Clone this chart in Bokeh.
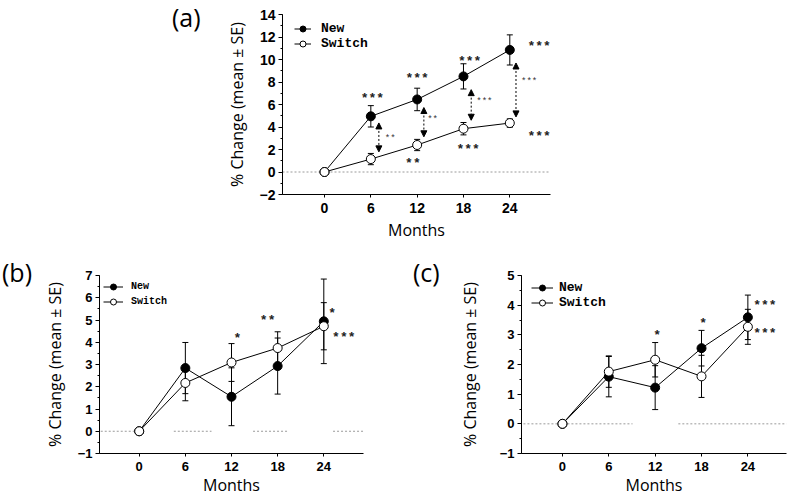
from bokeh.plotting import figure
from bokeh.models import (Range1d, ColumnDataSource, Whisker, TeeHead, Arrow, NormalHead,
                          Legend, LegendItem, FixedTicker, SingleIntervalTicker, Spacer, Div)
from bokeh.layouts import row, column
from bokeh.core.properties import value
from bokeh.embed import file_html
from bokeh.resources import INLINE

# ---------------- data ----------------
months = [0, 6, 12, 18, 24]

# panel (a)
a_new_mean = [0, 4.95, 6.45, 8.5, 10.85]
a_new_se = [0, 0.95, 1.0, 1.12, 1.34]
a_sw_mean = [0, 1.15, 2.4, 3.85, 4.35]
a_sw_se = [0, 0.5, 0.5, 0.55, 0.37]
a_star_x = [6.2, 12.0, 18.8, 27.8, 11.45, 18.6, 27.8]
a_star_y = [6.82, 8.59, 10.07, 11.4, 1.06, 2.24, 3.43]
a_star_text = ["***", "***", "***", "***", "**", "***", "***"]
a_diff_x = [7.04, 12.87, 19.0, 24.8]
a_diff_top = [4.36, 5.73, 7.32, 9.69]
a_diff_bottom = [1.79, 3.13, 4.6, 4.9]
a_diff_label_x = [8.5, 14.0, 20.7, 26.5]
a_diff_label_y = [3.13, 4.76, 6.38, 8.15]
a_diff_text = ["**", "**", "***", "***"]
a_zero_x0 = [-5.44]
a_zero_x1 = [29.27]

# panel (b)
b_new_mean = [0, 2.84, 1.55, 2.93, 4.94]
b_new_se = [0, 1.15, 1.3, 1.26, 1.9]
b_sw_mean = [0, 2.17, 3.09, 3.74, 4.72]
b_sw_se = [0, 0.8, 0.85, 0.73, 1.06]
b_star_x = [12.77, 16.7, 25.1, 26.6]
b_star_y = [4.31, 5.12, 5.42, 4.37]
b_star_text = ["*", "**", "*", "***"]
b_zero_x0 = [-5.0, 4.5, 14.8, 25.2]
b_zero_x1 = [-0.65, 9.4, 19.35, 29.2]

# panel (c)
c_new_mean = [0, 1.59, 1.22, 2.55, 3.59]
c_new_se = [0, 0.68, 0.74, 0.6, 0.75]
c_sw_mean = [0, 1.76, 2.16, 1.6, 3.27]
c_sw_se = [0, 0.53, 0.58, 0.71, 0.59]
c_star_x = [12.26, 18.2, 26.2, 26.2]
c_star_y = [3.09, 3.5, 4.1, 3.14]
c_star_text = ["*", "*", "***", "***"]
c_zero_x0 = [-5.05, 15.0]
c_zero_x1 = [9.07, 29.0]

panel_letters = ["(a)", "(b)", "(c)"]

TICK_FONT = "'Liberation Sans', Arial, sans-serif"
LABEL_FONT = "'Open Sans', sans-serif"
MONO_FONT = "'Liberation Mono', 'DejaVu Sans Mono', monospace"


def make_panel(width, height, mbl, mbr, mbt, mbb, xr, yr, interval, minus_tick,
               new_mean, new_se, sw_mean, sw_se, zero_x0, zero_x1,
               star_x, star_y, star_text, tick_size, legend_font, legend_glyph_w,
               legend_loc, legend_standoff, ylab_standoff, xlab_standoff):
    p = figure(width=width, height=height, x_range=Range1d(*xr), y_range=Range1d(*yr),
               output_backend="svg", toolbar_location=None,
               min_border_left=mbl, min_border_right=mbr, min_border_top=mbt,
               min_border_bottom=mbb)
    p.outline_line_color = None
    p.xgrid.visible = False
    p.ygrid.visible = False
    p.background_fill_color = "white"
    p.border_fill_color = "white"

    xa = p.xaxis[0]
    xa.ticker = FixedTicker(ticks=months)
    xa.minor_tick_line_color = None
    xa.major_tick_in = 0
    xa.major_tick_out = 3
    xa.major_label_standoff = 5
    xa.axis_label = "Months"
    xa.axis_label_standoff = xlab_standoff
    ya = p.yaxis[0]
    ya.ticker = SingleIntervalTicker(interval=interval, num_minor_ticks=2)
    ya.major_tick_in = 0
    ya.major_tick_out = 4
    ya.minor_tick_in = 0
    ya.minor_tick_out = 2
    ya.major_label_standoff = 3
    ya.major_label_overrides = {minus_tick: "\u2212" + str(abs(minus_tick))}
    ya.axis_label = "% Change (mean \u00b1 SE)"
    ya.axis_label_standoff = ylab_standoff
    for ax in (xa, ya):
        ax.axis_line_color = "black"
        ax.major_tick_line_color = "black"
        ax.major_label_text_font = TICK_FONT
        ax.major_label_text_font_style = "bold"
        ax.major_label_text_font_size = tick_size
        ax.major_label_text_color = "black"
        ax.axis_label_text_font = LABEL_FONT
        ax.axis_label_text_font_style = "normal"
        ax.axis_label_text_font_size = "16px"
        ax.axis_label_text_color = "black"
    ya.minor_tick_line_color = "black"

    p.segment(x0=zero_x0, x1=zero_x1, y0=[0] * len(zero_x0), y1=[0] * len(zero_x0),
              line_color="#9a9a9a", line_width=1, line_dash="2 2")

    ln_new = p.line(months, new_mean, line_color="black", line_width=1)
    ln_sw = p.line(months, sw_mean, line_color="black", line_width=1)

    for mean, se in ((new_mean, new_se), (sw_mean, sw_se)):
        src = ColumnDataSource(dict(x=months,
                                    lo=[m - s for m, s in zip(mean, se)],
                                    hi=[m + s for m, s in zip(mean, se)]))
        w = Whisker(source=src, base="x", lower="lo", upper="hi", dimension="height",
                    line_color="black", line_width=1,
                    upper_head=TeeHead(size=6, line_color="black", line_width=1),
                    lower_head=TeeHead(size=6, line_color="black", line_width=1))
        p.add_layout(w)

    sc_new = p.scatter(months, new_mean, size=9, marker="circle",
                       fill_color="black", line_color="black", line_width=1)
    sc_sw = p.scatter(months, sw_mean, size=9, marker="circle",
                      fill_color="white", line_color="black", line_width=1)

    p.text(x=star_x, y=star_y, text=star_text, text_font=value(MONO_FONT),
           text_font_size="13px", text_font_style="bold", text_align="center",
           text_baseline="middle", y_offset=3, text_color="#222222")

    legend = Legend(items=[LegendItem(label="New", renderers=[ln_new, sc_new]),
                           LegendItem(label="Switch", renderers=[ln_sw, sc_sw])],
                    location=legend_loc, orientation="vertical",
                    glyph_width=legend_glyph_w, glyph_height=15, label_height=15,
                    label_standoff=legend_standoff, spacing=0, padding=0, margin=0,
                    label_text_font=MONO_FONT, label_text_font_style="bold",
                    label_text_font_size=legend_font, label_text_color="black",
                    background_fill_alpha=0, border_line_color=None)
    p.add_layout(legend, "center")
    return p


def letter_div(text, width, height, pad_left, pad_top):
    return Div(text=text, width=width, height=height, margin=0,
               styles={"font-family": "'Open Sans', sans-serif", "font-size": "25px",
                       "line-height": "34px", "padding-left": f"{pad_left}px",
                       "padding-top": f"{pad_top}px", "color": "black",
                       "box-sizing": "border-box"})


# panel (a)
pa = make_panel(360, 245, 72, 20, 14, 51, (-5.44, 29.27), (-2, 14), 2, -2,
                a_new_mean, a_new_se, a_sw_mean, a_sw_se, a_zero_x0, a_zero_x1,
                a_star_x, a_star_y, a_star_text, "14px", "13px", 17, (12, 143.5), 10, 9, 3)
arr_src = ColumnDataSource(dict(xs=a_diff_x, ys=a_diff_top, xe=a_diff_x, ye=a_diff_bottom))
pa.add_layout(Arrow(source=arr_src, x_start="xs", y_start="ys", x_end="xe", y_end="ye",
                    line_color="black", line_width=1, line_dash="2 2",
                    start=NormalHead(size=6, fill_color="black", line_color="black", line_width=1),
                    end=NormalHead(size=6, fill_color="black", line_color="black", line_width=1)))
pa.text(x=a_diff_label_x, y=a_diff_label_y, text=a_diff_text, text_font=value(MONO_FONT),
        text_font_size="9px", text_align="center", text_baseline="middle", y_offset=2,
        text_color="#333333")

# panel (b)
pb = make_panel(345, 253, 57, 22, 30, 45, (-5.16, 29.16), (-1, 7), 1, -1,
                b_new_mean, b_new_se, b_sw_mean, b_sw_se, b_zero_x0, b_zero_x1,
                b_star_x, b_star_y, b_star_text, "13px", "10px", 20, (4, 144.5), 8, 9, 0)

# panel (c)
pc = make_panel(333, 253, 66, 2, 30, 45, (-5.3, 29.0), (-1, 5), 1, -1,
                c_new_mean, c_new_se, c_sw_mean, c_sw_se, c_zero_x0, c_zero_x1,
                c_star_x, c_star_y, c_star_text, "13px", "13px", 22, (10, 143.5), 6, 16, 0)

top = row(Spacer(width=168, height=245), letter_div(panel_letters[0], 42, 245, 4, 0), pa)
bottom = row(letter_div(panel_letters[1], 40, 253, 2, 10), pb,
             letter_div(panel_letters[2], 70, 253, 28, 10), pc)
layout = column(top, bottom)

open("out.html", "w").write(file_html(layout, INLINE))
